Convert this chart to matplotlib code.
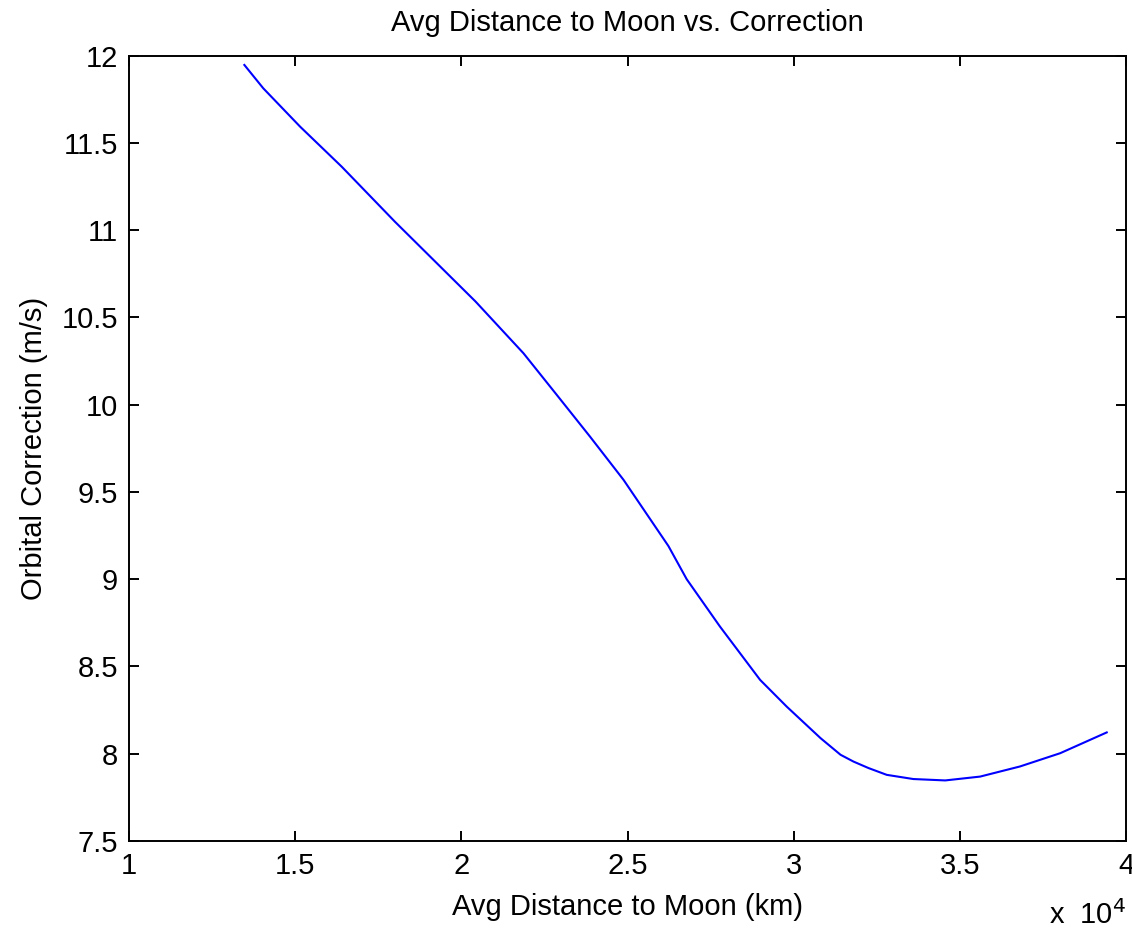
import matplotlib
matplotlib.use("Agg")
import matplotlib.pyplot as plt
import matplotlib.ticker as ticker

plt.rcParams["font.family"] = ["Liberation Sans", "DejaVu Sans"]

# average distance to the moon (km) vs. required orbital correction (m/s)
dist_km = [13470, 14040, 15150, 16400, 18000, 20430, 21870, 22870, 23870,
           24880, 26230, 26780, 27780, 28990, 29790, 30810, 31410, 31800,
           32250, 32800, 33600, 34560, 35610, 36810, 38020, 39420]
correction = [11.946, 11.812, 11.592, 11.363, 11.048, 10.590, 10.294, 10.056,
              9.817, 9.569, 9.190, 9.000, 8.729, 8.423, 8.270, 8.089, 7.994,
              7.955, 7.918, 7.879, 7.855, 7.847, 7.869, 7.927, 8.003, 8.122]

x_ticks = [10000, 15000, 20000, 25000, 30000, 35000, 40000]
y_ticks = [7.5, 8, 8.5, 9, 9.5, 10, 10.5, 11, 11.5, 12]

FS = 21

fig = plt.figure(figsize=(11.32, 9.30), dpi=100)
ax = fig.add_axes([0.114, 0.0957, 0.8807, 0.8446])

ax.plot(dist_km, correction, color="#0000ff", lw=1.5)

ax.set_xlim(10000, 40000)
ax.set_ylim(7.5, 12)
ax.set_xticks(x_ticks)
ax.set_yticks(y_ticks)
ax.xaxis.set_major_formatter(ticker.FuncFormatter(lambda x, _: f"{x / 1e4:g}"))
ax.yaxis.set_major_formatter(ticker.FuncFormatter(lambda y, _: f"{y:g}"))

ax.tick_params(direction="in", length=7.5, width=1.4, labelsize=FS,
               top=True, right=True, pad=8)
for sp in ax.spines.values():
    sp.set_linewidth(1.4)

ax.set_title("Avg Distance to Moon vs. Correction", fontsize=FS, pad=18)
ax.set_xlabel("Avg Distance to Moon (km)", fontsize=FS, labelpad=9)
ax.set_ylabel("Orbital Correction (m/s)", fontsize=FS, labelpad=10)

# MATLAB-style exponent label below the right end of the x axis
ax.text(1.0, -0.075, r"x  10$^{4}$", transform=ax.transAxes, fontsize=FS,
        ha="right", va="top")

fig.savefig("out.png", dpi=100)
